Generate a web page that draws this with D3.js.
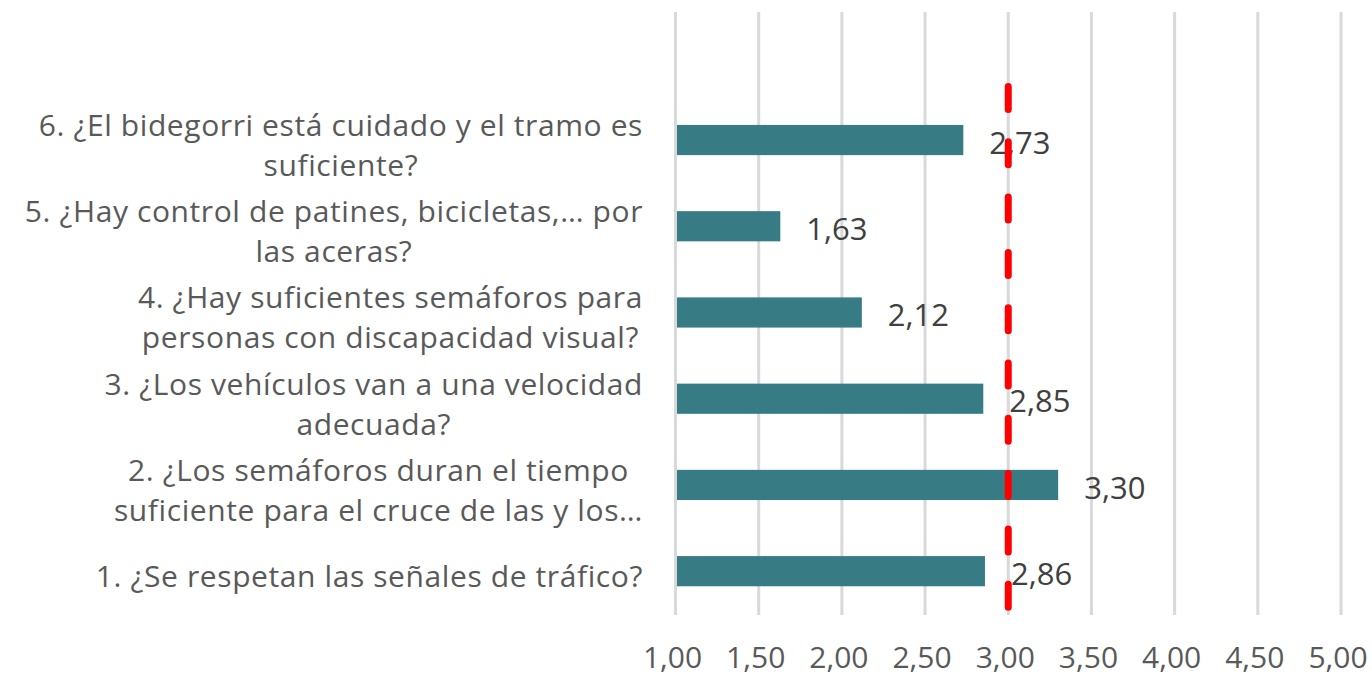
<!DOCTYPE html>
<html>
<head>
<meta charset="utf-8">
<script src="https://cdn.jsdelivr.net/npm/d3@7"></script>
<style>
  html, body { margin: 0; padding: 0; background: #fff; }
  svg text { font-family: "Open Sans", sans-serif; }
</style>
</head>
<body>
<svg width="1372" height="677"></svg>
<script>
// data, bottom to top as in the chart
var categories = ["1", "2", "3", "4", "5", "6"];
var labelLines = [
  ["1. ¿Se respetan las señales de tráfico?"],
  ["2. ¿Los semáforos duran el tiempo", "suficiente para el cruce de las y los…"],
  ["3. ¿Los vehículos van a una velocidad", "adecuada?"],
  ["4. ¿Hay suficientes semáforos para", "personas con discapacidad visual?"],
  ["5. ¿Hay control de patines, bicicletas,… por", "las aceras?"],
  ["6. ¿El bidegorri está cuidado y el tramo es", "suficiente?"]
];
var values = [2.86, 3.30, 2.85, 2.12, 1.63, 2.73];
var xTicks = [1, 1.5, 2, 2.5, 3, 3.5, 4, 4.5, 5];
var refValue = 3;

var svg = d3.select("svg");

var x = d3.scaleLinear().domain([1, 5]).range([675.5, 1341]);
var y = d3.scaleBand()
  .domain(categories)
  .range([614.3, 96.9])
  .paddingInner(0.65)
  .paddingOuter(0.325);

var fmt = function (v) { return d3.format(".2f")(v).replace(".", ","); };

// gridlines
svg.append("g").selectAll("line")
  .data(xTicks)
  .enter()
  .append("line")
  .attr("x1", function (d) { return x(d); })
  .attr("x2", function (d) { return x(d); })
  .attr("y1", 12)
  .attr("y2", 615)
  .attr("stroke", "#d9d9d9")
  .attr("stroke-width", 3);

// tick labels
svg.append("g").selectAll("text")
  .data(xTicks)
  .enter()
  .append("text")
  .attr("x", function (d) { return x(d) - 3; })
  .attr("y", 668)
  .attr("text-anchor", "middle")
  .attr("fill", "#595959")
  .style("font-size", "30px")
  .text(fmt);

// bars
svg.append("g").selectAll("rect")
  .data(values)
  .enter()
  .append("rect")
  .attr("x", x(1) + 1.5)
  .attr("y", function (d, i) { return y(categories[i]); })
  .attr("width", function (d) { return x(d) - x(1) - 1.5; })
  .attr("height", y.bandwidth())
  .attr("fill", "#377b84");

// value labels
svg.append("g").selectAll("text")
  .data(values)
  .enter()
  .append("text")
  .attr("x", function (d) { return x(d) + 26; })
  .attr("y", function (d, i) { return y(categories[i]) + y.bandwidth() / 2 + 2.5; })
  .attr("dy", "0.36em")
  .attr("fill", "#404040")
  .style("font-size", "31px")
  .text(fmt);

// category labels, each block right aligned, lines centred inside it
var labelRight = 643, lineH = 40;
var lab = svg.append("g").selectAll("g")
  .data(labelLines)
  .enter()
  .append("g");

lab.each(function (lines, i) {
  var g = d3.select(this);
  var cy = y(categories[i]) + y.bandwidth() / 2 + 5;
  var t = g.selectAll("text")
    .data(lines)
    .enter()
    .append("text")
    .attr("y", function (d, j) { return cy + (j - (lines.length - 1) / 2) * lineH; })
    .attr("dy", "0.36em")
    .attr("text-anchor", "middle")
    .attr("fill", "#595959")
    .style("font-size", "30px")
    .style("letter-spacing", "0.6px")
    .text(function (d) { return d; });
  var w = 0;
  t.each(function () { w = Math.max(w, this.getComputedTextLength()); });
  // keep the widest line inside the page
  if (w > labelRight - 4) {
    t.style("font-size", (30 * (labelRight - 4) / w) + "px");
    w = labelRight - 4;
  }
  t.attr("x", labelRight - w / 2);
});

// reference line at 3,00, drawn on top
svg.append("line")
  .attr("x1", x(refValue))
  .attr("x2", x(refValue))
  .attr("y1", 86.5)
  .attr("y2", 616)
  .attr("stroke", "#ff0000")
  .attr("stroke-width", 7)
  .attr("stroke-linecap", "round")
  .attr("stroke-dasharray", "23 32.3");
</script>
</body>
</html>
